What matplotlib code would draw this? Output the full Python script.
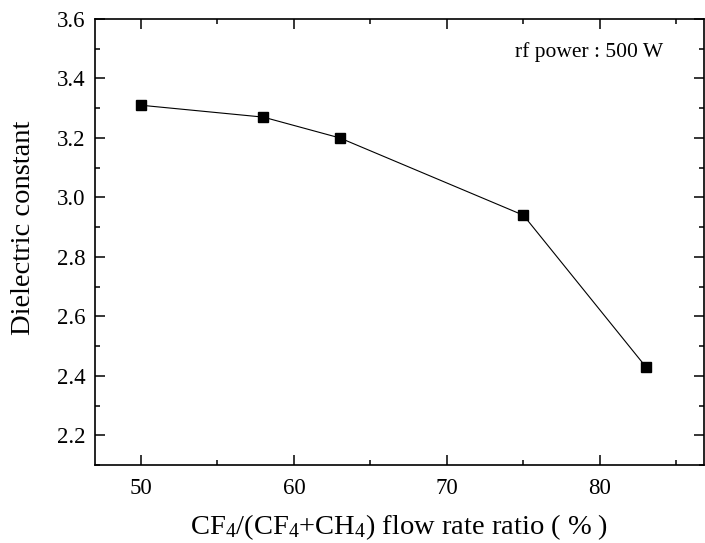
import matplotlib
matplotlib.use("Agg")
import matplotlib.pyplot as plt
from matplotlib.ticker import MultipleLocator, FormatStrFormatter

# flow rate ratio (%) vs dielectric constant
flow_ratio = [50, 58, 63, 75, 83]
dielectric = [3.31, 3.27, 3.20, 2.94, 2.43]

plt.rcParams["font.family"] = ["Liberation Serif", "DejaVu Serif"]
plt.rcParams["mathtext.fontset"] = "custom"
plt.rcParams["mathtext.rm"] = "Liberation Serif"

fig = plt.figure(figsize=(7.05, 5.43), dpi=100)
ax = fig.add_axes([95 / 705, 1 - 465 / 543, (704 - 95) / 705, (465 - 19) / 543])

ax.plot(flow_ratio, dielectric, color="black", linewidth=0.8,
        marker="s", markersize=7, markerfacecolor="black", markeredgecolor="black")

ax.set_xlim(47, 86.8)
ax.set_ylim(2.1, 3.6)
ax.xaxis.set_major_locator(MultipleLocator(10))
ax.xaxis.set_minor_locator(MultipleLocator(5))
ax.yaxis.set_major_locator(MultipleLocator(0.2))
ax.yaxis.set_minor_locator(MultipleLocator(0.1))
ax.yaxis.set_major_formatter(FormatStrFormatter("%.1f"))

ax.tick_params(which="both", direction="in", top=True, right=True,
               labelsize=16.5, width=1.1)
ax.tick_params(which="major", length=7)
ax.tick_params(which="minor", length=3.6)
ax.tick_params(axis="x", pad=9)
ax.tick_params(axis="y", pad=7)
for s in ax.spines.values():
    s.set_linewidth(1.2)

ax.set_xlabel(r"$\mathregular{CF_4/(CF_4{+}CH_4)}$ flow rate ratio ( % )", fontsize=20.5, labelpad=10)
ax.set_ylabel("Dielectric constant", fontsize=20.5)
ax.yaxis.set_label_coords(-0.097, 0.531)

ax.text(0.69, 0.925, "rf power : 500 W", transform=ax.transAxes, fontsize=15.5,
        ha="left", va="center")

fig.savefig("out.png", dpi=100)
